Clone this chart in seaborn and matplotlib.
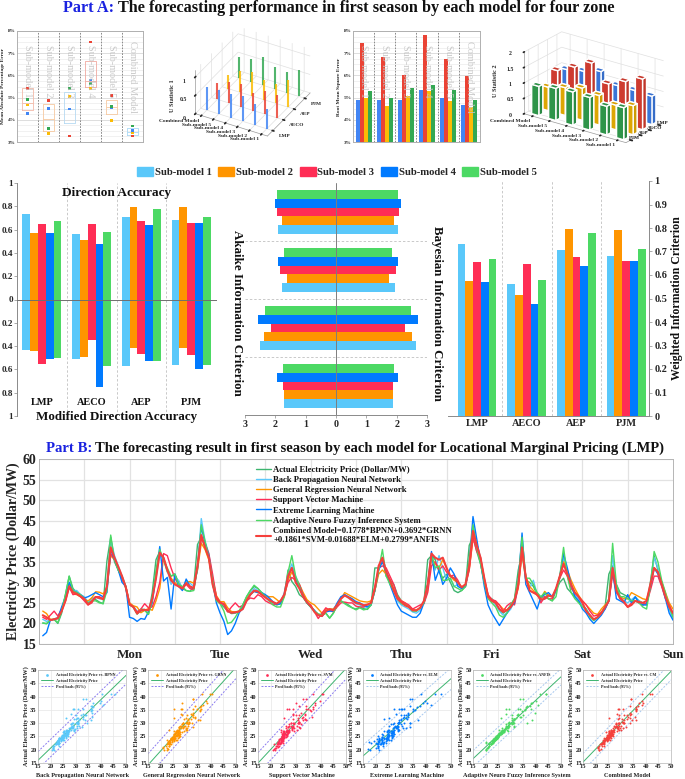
#!/usr/bin/env python3
"""Forecasting performance figure: Part A metrics and Part B LMP forecasts."""

import matplotlib
matplotlib.use("Agg")
import matplotlib.pyplot as plt
import matplotlib.patches as mpatches
from matplotlib.colors import LightSource
import numpy as np
import pandas as pd
import seaborn as sns

sns.set_theme(style="white")
plt.rcParams["font.family"] = ["Liberation Serif"]
plt.rcParams["font.weight"] = "bold"
plt.rcParams["axes.labelweight"] = "bold"
plt.rcParams["axes.linewidth"] = 0.7

# ---- data ----
zones = ["LMP", "AECO", "AEP", "PJM"]
sub_models = ["Sub-model 1", "Sub-model 2", "Sub-model 3", "Sub-model 4", "Sub-model 5"]
box_names = ["Sub-model 1", "Sub-model 2", "Sub-model 3", "Sub-model 4", "Sub-model 5", "Combined Model"]

# MAPE per zone and box outline (q1, median, q3)
mape_lmp = [4.27, 4.51, 4.49, 5.79, 4.57, 3.51]
mape_aeco = [5.42, 4.87, 3.27, 7.50, 5.11, 3.27]
mape_aep = [4.67, 3.39, 5.05, 5.41, 3.96, 3.41]
mape_pjm = [4.91, 3.60, 5.41, 5.62, 4.61, 3.72]
box_q1 = [4.46, 3.50, 3.87, 5.48, 4.27, 3.33]
box_med = [4.76, 4.05, 4.49, 5.74, 4.58, 3.45]
box_q3 = [5.42, 4.69, 5.23, 6.64, 4.87, 3.62]

rmse_lmp = [4.88, 4.87, 4.91, 5.35, 4.97, 4.66]
rmse_aeco = [7.47, 6.83, 6.01, 7.82, 6.72, 5.97]
rmse_aep = [5.00, 4.64, 5.08, 5.29, 4.84, 4.57]
rmse_pjm = [5.29, 4.97, 5.42, 5.56, 5.32, 4.87]

# 3D bars, order Combined Model -> Sub-model 1
names_3d = ["Combined Model", "Sub-model 5", "Sub-model 4", "Sub-model 3", "Sub-model 2", "Sub-model 1"]
u1_lmp = [0.62, 0.65, 0.65, 0.68, 0.56, 0.55]
u1_aeco = [0.44, 0.58, 0.62, 0.47, 0.64, 0.62]
u1_aep = [0.38, 0.57, 0.65, 0.54, 0.54, 0.75]
u1_pjm = [0.56, 0.60, 0.78, 0.60, 0.55, 0.73]
u2_lmp = [1.00, 1.10, 1.25, 0.95, 0.95, 0.92]
u2_aeco = [1.13, 1.40, 1.69, 1.17, 1.40, 1.64]
u2_aep = [0.76, 0.90, 1.04, 0.96, 0.80, 0.94]
u2_pjm = [0.95, 1.04, 1.08, 1.06, 0.93, 1.04]

# per zone, five sub-models
da_up = [[0.73, 0.575, 0.65, 0.57, 0.67], [0.565, 0.515, 0.645, 0.475, 0.58],
         [0.705, 0.795, 0.675, 0.64, 0.775], [0.68, 0.79, 0.66, 0.66, 0.71]]
mda_down = [[0.43, 0.44, 0.55, 0.515, 0.50], [0.515, 0.49, 0.345, 0.755, 0.57],
            [0.57, 0.415, 0.465, 0.525, 0.525], [0.56, 0.415, 0.475, 0.595, 0.56]]
aic = [[1.92, 1.78, 1.96, 2.02, 1.93], [1.79, 1.62, 1.84, 1.91, 1.71],
       [2.49, 2.36, 2.15, 2.56, 2.34], [1.73, 1.72, 1.74, 1.94, 1.76]]
bic = [[2.04, 1.92, 2.09, 2.14, 2.05], [1.93, 1.76, 1.97, 2.04, 1.85],
       [2.63, 2.50, 2.28, 2.69, 2.47], [1.87, 1.87, 1.88, 2.06, 1.90]]
wic = [[0.73, 0.575, 0.655, 0.57, 0.67], [0.56, 0.515, 0.645, 0.475, 0.58],
       [0.705, 0.795, 0.675, 0.64, 0.78], [0.68, 0.79, 0.66, 0.66, 0.71]]

# hourly prices, one row per day
actual = [
    20.1, 19.9, 20.8, 21.0, 20.0, 22.5, 27.0, 31.5, 28.5, 27.5, 26.8, 26.2, 25.2, 26.2, 25.8, 25.2, 24.8, 35.2, 41.0, 35.0, 33.0, 31.0, 28.5, 24.5,
    24.0, 22.3, 23.5, 23.4, 22.2, 27.5, 35.5, 37.5, 35.5, 32.5, 31.5, 32.0, 30.0, 28.5, 28.0, 27.8, 29.0, 39.2, 41.0, 38.5, 36.0, 29.5, 26.0, 24.8,
    24.0, 23.0, 22.4, 22.5, 23.0, 24.5, 26.5, 28.0, 29.0, 28.5, 27.5, 26.5, 25.5, 25.0, 24.5, 24.8, 27.0, 33.0, 30.2, 29.0, 27.0, 26.3, 25.0, 24.0,
    23.0, 22.2, 22.2, 22.5, 21.3, 22.5, 24.5, 25.5, 25.0, 24.5, 23.8, 23.5, 24.0, 23.6, 23.4, 24.5, 33.5, 33.5, 35.5, 31.5, 30.5, 29.5, 27.0, 25.5,
    24.8, 24.0, 23.3, 23.0, 23.8, 25.0, 35.5, 36.5, 35.5, 32.5, 31.0, 32.0, 30.0, 28.0, 27.5, 28.0, 29.0, 39.0, 41.0, 37.5, 34.5, 30.0, 26.5, 26.0,
    25.0, 23.2, 22.5, 23.2, 24.5, 26.0, 33.0, 37.0, 30.5, 30.0, 29.0, 27.0, 26.3, 26.5, 26.0, 25.5, 28.0, 30.0, 31.0, 28.5, 27.5, 26.5, 25.5, 24.5,
    23.5, 22.0, 20.8, 21.5, 22.5, 24.0, 32.0, 34.0, 29.5, 27.5, 27.0, 26.5, 25.5, 26.3, 25.5, 25.0, 24.5, 30.0, 36.5, 33.0, 30.0, 27.0, 24.5, 21.5,
]
bpnn = [
    21.0, 20.5, 20.9, 21.0, 21.5, 23.5, 26.0, 30.0, 28.0, 28.0, 27.0, 26.5, 25.2, 26.0, 26.5, 26.0, 26.0, 29.0, 40.5, 36.5, 34.0, 31.5, 29.0, 24.8,
    24.2, 23.0, 22.8, 23.2, 23.0, 26.0, 31.0, 37.0, 36.0, 33.0, 29.5, 31.0, 30.5, 28.5, 30.5, 29.8, 29.0, 33.0, 45.5, 40.0, 37.0, 31.0, 26.5, 25.0,
    24.5, 22.9, 22.8, 22.6, 22.8, 23.5, 25.5, 27.5, 28.5, 28.0, 27.5, 26.5, 25.5, 25.0, 24.6, 25.0, 27.5, 32.0, 34.5, 31.5, 29.5, 27.0, 25.5, 24.0,
    23.0, 22.2, 21.8, 23.2, 23.3, 23.5, 24.8, 26.0, 27.0, 26.2, 25.5, 24.8, 24.5, 24.0, 24.0, 24.8, 28.0, 33.0, 36.0, 33.0, 30.5, 28.0, 25.5, 24.5,
    24.0, 23.5, 22.8, 22.5, 23.2, 25.5, 29.5, 36.5, 33.0, 36.5, 33.5, 30.5, 31.0, 29.0, 29.5, 28.5, 29.0, 34.0, 44.0, 39.5, 36.0, 30.5, 26.5, 25.5,
    24.5, 23.0, 22.0, 22.5, 23.5, 25.5, 30.0, 41.0, 31.0, 28.5, 30.5, 27.0, 25.5, 26.0, 27.0, 26.5, 28.0, 31.0, 36.0, 32.5, 29.5, 27.0, 26.0, 24.5,
    23.0, 22.0, 20.8, 21.5, 22.5, 24.0, 26.0, 36.5, 28.0, 26.5, 25.5, 25.0, 25.8, 26.5, 25.5, 24.5, 24.8, 29.0, 36.0, 33.5, 30.0, 27.0, 23.5, 21.0,
]
grnn = [
    23.0, 22.4, 21.0, 21.0, 21.2, 23.0, 25.5, 29.5, 27.2, 27.0, 26.5, 25.8, 25.5, 26.2, 27.7, 27.6, 27.2, 28.5, 36.5, 35.5, 33.0, 31.0, 29.0, 25.0,
    24.3, 24.0, 22.6, 23.2, 23.6, 23.2, 25.5, 28.5, 36.0, 33.0, 31.0, 30.0, 29.0, 28.8, 30.0, 30.2, 29.8, 33.0, 39.5, 38.0, 35.5, 31.0, 26.8, 25.3,
    25.3, 23.8, 22.9, 22.8, 23.0, 24.0, 26.0, 27.2, 27.8, 27.5, 27.2, 26.8, 26.5, 26.5, 25.8, 25.0, 26.5, 30.5, 32.5, 31.0, 29.5, 27.5, 25.8, 25.0,
    24.5, 23.5, 22.5, 23.5, 23.5, 23.5, 24.5, 26.0, 27.5, 27.0, 26.5, 26.0, 25.5, 25.3, 25.2, 25.5, 28.0, 32.0, 33.0, 32.0, 30.5, 28.5, 26.5, 25.5,
    25.0, 24.2, 23.5, 23.2, 23.8, 25.0, 28.0, 36.0, 34.5, 33.5, 35.5, 33.5, 31.5, 30.5, 30.0, 28.8, 29.5, 33.0, 40.5, 38.5, 35.5, 30.5, 26.8, 25.5,
    25.2, 24.5, 23.5, 23.3, 24.0, 25.5, 28.5, 37.0, 31.5, 29.0, 28.0, 26.8, 26.0, 27.8, 26.8, 26.5, 28.0, 31.5, 35.0, 33.0, 30.5, 28.5, 26.8, 25.5,
    24.5, 23.5, 22.5, 22.2, 23.5, 24.5, 25.5, 33.0, 28.5, 26.5, 26.0, 26.0, 27.5, 27.0, 26.5, 26.0, 25.8, 29.0, 33.5, 32.5, 30.0, 27.5, 25.0, 23.5,
]
svm = [
    21.5, 21.0, 22.0, 23.0, 21.8, 23.5, 25.5, 28.8, 27.0, 27.2, 26.5, 25.5, 24.5, 25.0, 26.5, 26.5, 26.0, 29.0, 37.0, 35.5, 33.5, 31.0, 29.0, 24.8,
    24.0, 22.8, 23.5, 24.8, 23.8, 24.0, 26.5, 30.0, 37.0, 36.5, 33.5, 31.0, 29.5, 28.5, 29.5, 28.5, 28.2, 34.0, 40.5, 39.5, 37.0, 32.0, 26.5, 25.2,
    24.5, 22.8, 24.0, 25.0, 24.0, 24.3, 25.5, 26.2, 26.0, 27.0, 26.5, 25.5, 25.0, 24.6, 24.8, 25.5, 27.0, 30.0, 31.2, 30.5, 29.5, 27.0, 25.0, 24.5,
    22.8, 21.2, 22.5, 23.8, 23.2, 22.8, 24.0, 25.0, 25.2, 25.0, 25.0, 24.2, 24.0, 24.0, 24.5, 25.0, 29.0, 33.5, 34.0, 33.5, 31.5, 29.5, 26.5, 25.5,
    25.0, 24.5, 23.5, 24.0, 24.5, 24.8, 27.5, 34.0, 35.0, 33.0, 34.0, 32.5, 31.5, 31.8, 30.5, 28.5, 29.0, 33.0, 41.0, 37.5, 36.0, 31.0, 27.0, 25.8,
    25.5, 24.5, 23.0, 24.3, 25.0, 24.5, 29.0, 37.5, 31.5, 28.0, 27.5, 27.5, 25.0, 26.5, 26.0, 26.0, 28.5, 31.0, 33.0, 31.5, 28.5, 27.5, 26.5, 25.5,
    24.5, 23.0, 21.8, 22.0, 22.8, 23.5, 25.5, 32.0, 27.5, 26.5, 25.0, 24.0, 25.0, 25.5, 25.0, 24.5, 25.0, 28.0, 31.5, 31.5, 29.0, 26.0, 24.5, 22.5,
]
elm = [
    17.0, 17.8, 20.8, 21.0, 21.2, 24.0, 26.5, 30.0, 28.0, 27.5, 27.0, 26.2, 26.5, 27.0, 27.5, 27.0, 26.5, 27.5, 38.0, 35.5, 33.0, 30.0, 29.0, 21.5,
    21.2, 20.5, 21.2, 21.0, 22.8, 25.0, 31.5, 38.7, 30.3, 31.2, 23.5, 32.0, 29.0, 28.0, 30.8, 29.0, 28.5, 33.5, 43.5, 39.5, 36.5, 30.0, 25.0, 22.5,
    20.5, 17.3, 18.2, 20.0, 22.5, 24.0, 25.5, 27.0, 27.8, 27.5, 27.5, 27.0, 26.2, 25.3, 24.6, 24.8, 27.0, 31.5, 33.5, 30.5, 29.0, 26.5, 25.0, 24.0,
    23.2, 22.0, 21.8, 22.8, 23.0, 23.0, 25.0, 26.5, 27.0, 26.5, 26.0, 25.3, 25.0, 24.5, 24.0, 24.5, 28.0, 33.0, 35.0, 32.5, 29.5, 27.0, 24.5, 23.0,
    22.5, 22.0, 21.5, 21.5, 22.5, 25.0, 29.5, 37.5, 30.5, 33.0, 29.5, 31.0, 33.5, 32.0, 29.0, 28.5, 29.0, 34.5, 46.0, 40.5, 35.0, 29.0, 24.5, 22.5,
    21.0, 19.5, 21.0, 22.5, 24.0, 25.0, 30.0, 42.0, 29.5, 27.5, 25.5, 23.5, 26.5, 27.0, 27.5, 26.5, 28.0, 31.5, 37.0, 33.5, 29.5, 26.5, 25.5, 23.5,
    22.5, 21.0, 20.0, 21.0, 22.0, 23.5, 25.5, 33.0, 26.0, 25.5, 25.0, 27.0, 25.0, 26.5, 25.0, 24.5, 24.5, 29.0, 33.5, 32.0, 29.5, 26.0, 22.5, 20.8,
]
anfis = [
    20.1, 20.0, 20.8, 21.0, 20.2, 23.0, 27.0, 31.5, 28.0, 27.5, 27.0, 26.0, 25.0, 25.5, 25.5, 25.0, 24.8, 28.0, 41.5, 35.5, 33.0, 31.5, 29.0, 24.5,
    24.0, 22.3, 23.4, 23.2, 22.2, 25.5, 33.0, 38.0, 35.5, 33.5, 31.5, 32.0, 29.5, 29.0, 28.0, 27.8, 28.0, 33.5, 44.0, 40.0, 36.0, 30.5, 25.5, 24.8,
    23.0, 20.0, 20.3, 21.5, 23.0, 24.5, 26.5, 28.0, 29.3, 28.5, 27.5, 26.5, 25.5, 24.5, 24.0, 24.0, 26.5, 32.5, 36.5, 31.5, 29.0, 26.5, 25.0, 24.0,
    23.0, 22.3, 22.0, 22.5, 21.3, 22.5, 24.5, 25.5, 24.8, 24.2, 23.8, 23.3, 23.8, 23.3, 23.5, 24.5, 28.0, 33.0, 38.0, 31.5, 29.5, 28.0, 26.0, 24.8,
    24.5, 24.0, 23.0, 23.0, 23.8, 25.0, 29.5, 36.5, 33.5, 34.0, 30.5, 30.5, 31.0, 29.0, 28.5, 28.0, 29.0, 35.0, 44.0, 38.5, 34.5, 30.0, 26.0, 25.0,
    24.0, 22.0, 21.5, 22.5, 24.5, 26.0, 30.5, 41.0, 31.0, 31.0, 29.5, 27.5, 26.5, 27.5, 26.0, 25.5, 26.5, 31.5, 38.5, 31.5, 27.5, 26.0, 25.0, 24.0,
    23.5, 21.5, 20.7, 21.5, 22.5, 24.0, 26.0, 39.5, 29.5, 26.5, 26.5, 26.0, 25.5, 25.5, 25.0, 24.0, 23.5, 29.0, 37.5, 35.0, 30.5, 27.5, 24.0, 21.5,
]
combined = [
    22.0, 21.5, 20.8, 21.0, 21.3, 23.0, 25.5, 29.0, 27.6, 27.2, 26.6, 26.0, 24.6, 25.4, 26.4, 26.2, 25.9, 29.0, 38.5, 36.0, 33.8, 31.5, 28.8, 24.6,
    24.0, 22.4, 23.2, 23.3, 23.2, 26.0, 31.0, 37.2, 36.0, 33.0, 30.5, 29.5, 29.0, 28.5, 29.8, 29.0, 28.6, 34.0, 41.5, 38.5, 36.0, 29.5, 26.0, 25.0,
    24.8, 23.0, 22.6, 22.7, 22.9, 23.5, 25.5, 27.0, 28.0, 27.8, 27.0, 26.3, 25.7, 25.2, 24.8, 25.5, 27.0, 31.5, 33.5, 30.0, 28.5, 26.5, 25.2, 24.2,
    22.8, 22.0, 21.8, 23.0, 23.5, 23.2, 24.5, 26.0, 26.8, 26.3, 25.6, 25.0, 24.8, 24.4, 24.6, 25.0, 28.5, 34.0, 36.0, 32.5, 30.5, 28.0, 26.0, 25.2,
    24.4, 24.0, 23.2, 23.2, 23.8, 25.5, 29.5, 37.0, 36.0, 35.5, 36.0, 33.5, 31.5, 31.0, 30.0, 28.8, 29.5, 34.0, 42.5, 39.0, 36.0, 31.0, 26.5, 25.5,
    25.0, 23.5, 22.8, 23.2, 24.0, 25.5, 29.5, 38.5, 31.0, 28.0, 27.5, 27.0, 25.8, 26.0, 26.8, 26.5, 28.5, 31.5, 34.5, 32.0, 29.5, 27.5, 26.5, 25.0,
    23.0, 22.0, 21.0, 21.5, 22.5, 24.0, 25.5, 33.5, 28.0, 26.0, 25.3, 24.0, 24.5, 25.5, 25.2, 25.0, 25.5, 29.5, 33.5, 32.5, 29.5, 26.5, 24.0, 22.5,
]
hours = list(range(1, 169))
days = ["Mon", "Tue", "Wed", "Thu", "Fri", "Sat", "Sun"]

line_names = ["Actual Electricity Price (Dollar/MW)", "Back Propagation Neural Network",
              "General Regression Neural Network", "Support Vector Machine",
              "Extreme Learning Machine", "Adaptive Neuro Fuzzy Inference System",
              "Combined Model=0.1778*BPNN+0.3692*GRNN\n+0.1861*SVM-0.01688*ELM+0.2799*ANFIS"]

# ---- styles ----
W, H = 685, 779
IOS = ["#5AC8FA", "#FF9500", "#FF2D55", "#007AFF", "#4CD964"]
GOOGLE = {"LMP": "#4285F4", "AECO": "#EA4335", "AEP": "#FBBC05", "PJM": "#34A853"}
ACTUAL_C = "#3DB56F"
CM_C = "#F5403C"
SEP = "#c9c9c9"
GRAY = "#8a8a8a"

fig = plt.figure(figsize=(W / 100, H / 100), dpi=100)


def px_axes(left, top, right, bottom, **kw):
    return fig.add_axes([left / W, 1 - bottom / H, (right - left) / W, (bottom - top) / H], **kw)


def px_text(x, y, s, **kw):
    kw.setdefault("ha", "center")
    kw.setdefault("va", "center")
    return fig.text(x / W, 1 - y / H, s, **kw)


def zone_frame(values):
    rows = []
    for zone, row in zip(zones, values):
        for name, v in zip(sub_models, row):
            rows.append({"zone": zone, "model": name, "value": v})
    return pd.DataFrame(rows)


def style_percent_axis(ax, ylabel):
    ax.set_ylim(3, 8)
    ax.set_xlim(-0.5, 5.5)
    ax.set_yticks([3, 4, 5, 6, 7, 8])
    ax.set_yticklabels([f"{v}%" for v in range(3, 9)], fontsize=3.8)
    ax.set_yticks(np.arange(3, 8, 0.25), minor=True)
    ax.grid(axis="y", which="major", color="#dddddd", lw=0.7)
    ax.grid(axis="y", which="minor", color="#efefef", lw=0.6)
    ax.set_axisbelow(True)
    ax.tick_params(axis="y", length=0, pad=1)
    ax.set_xticks([])
    ax.set_xlabel("")
    ax.set_ylabel(ylabel, fontsize=3.9, labelpad=1.5)
    for s in ax.spines.values():
        s.set_color("#b0b0b0")
        s.set_visible(True)
    for x in np.arange(0.5, 5, 1):
        ax.axvline(x, color="#777777", lw=0.6, ls=(0, (2, 1.5)), zorder=1)
    for i, name in enumerate(box_names):
        ax.text(i, 7.38 if i < 5 else 7.55, name, rotation=-90, ha="center", va="top",
                fontsize=7.4, color="#c4c4c4", fontweight="normal", zorder=6, alpha=0.9)


# ---- titles ----
px_text(63, 7.5, "Part A:", ha="left", fontsize=11.7, color="#1a22e0")
px_text(118, 7.5, "The forecasting performance in first season by each model for four zone",
        ha="left", fontsize=11.7, color="#111111")
px_text(46, 448, "Part B:", ha="left", fontsize=10.6, color="#1a22e0")
px_text(95, 448, "The forecasting result in first season by each model for Locational Marginal Pricing (LMP)",
        ha="left", fontsize=10.55, color="#111111")

# ---- A1: MAPE boxes ----
ax = px_axes(17, 31, 143, 142)
box_stats = [{"q1": a, "med": b, "q3": c, "whislo": a, "whishi": c, "fliers": []}
             for a, b, c in zip(box_q1, box_med, box_q3)]
box_cols = ["#f3b9a8", "#f6c9a0", "#b5d9f2", "#f0a9a0", "#f6c9a0", "#a9d8f5"]
bp = ax.bxp(box_stats, positions=range(6), widths=0.56, showcaps=False, patch_artist=False,
            medianprops={"lw": 0.6}, boxprops={"lw": 0.6}, whiskerprops={"lw": 0})
for i, c in enumerate(box_cols):
    bp["boxes"][i].set_color(c)
    bp["medians"][i].set_color(c)
mape_df = pd.DataFrame({"pos": list(range(6)) * 4,
                        "mape": mape_lmp + mape_aeco + mape_aep + mape_pjm,
                        "zone": np.repeat(zones, 6)})
sns.scatterplot(data=mape_df, x="pos", y="mape", hue="zone", palette=GOOGLE, s=4, marker="s",
                linewidth=0, legend=False, ax=ax, zorder=5)
style_percent_axis(ax, "Mean Absolute Percentage Error")

# ---- A3: RMSE bars ----
ax = px_axes(353, 31, 480, 142)
rmse_df = pd.DataFrame({"model": box_names * 4,
                        "rmse": rmse_lmp + rmse_aeco + rmse_aep + rmse_pjm,
                        "zone": np.repeat(zones, 6)})
sns.barplot(data=rmse_df, x="model", y="rmse", hue="zone", palette=GOOGLE, saturation=1,
            width=0.76, gap=0, linewidth=0, legend=False, ax=ax)
style_percent_axis(ax, "Root Mean Square Error")


# ---- A2, A4: 3D bars ----
def bars_3d(box, rows, row_order, thickness, zmax, zticks, zlabel, aspect, elev, azim, zoom, ypad):
    ax3 = fig.add_axes([box[0] / W, 1 - box[3] / H, (box[2] - box[0]) / W, (box[3] - box[1]) / H],
                       projection="3d", computed_zorder=False, proj_type="ortho")
    ax3.patch.set_alpha(0)
    light = LightSource(azdeg=144, altdeg=35)
    for iy, zone in reversed(list(enumerate(row_order))):
        for ix, v in enumerate(rows[zone]):
            order = 10 + (len(row_order) - iy) * 10 + ix
            if thickness < 0.1:
                ax3.plot([ix, ix], [iy, iy], [0, v], color=GOOGLE[zone], lw=1.5, alpha=0.85,
                         solid_capstyle="butt", zorder=order)
            else:
                ax3.bar3d(ix - thickness / 2, iy - thickness / 2, 0, thickness, thickness, v,
                          color=GOOGLE[zone], shade=True, lightsource=light, zorder=order)
    ax3.set_xlim(-0.5, 5.5)
    ax3.set_ylim(-0.5, 3.5)
    ax3.set_zlim(0, zmax)
    ax3.set_xticks(range(6))
    ax3.set_xticklabels(names_3d, fontsize=3.9, ha="right", va="center")
    ax3.set_yticks(range(4))
    ax3.set_yticklabels(row_order, fontsize=3.9, ha="left", va="center")
    ax3.set_zticks(zticks)
    ax3.set_zticklabels([f"{t:g}" for t in zticks], fontsize=4.2)
    ax3.zaxis.set_ticks_position("lower")
    ax3.zaxis.set_label_position("lower")
    ax3.set_zlabel(zlabel, fontsize=4.5, labelpad=-11)
    ax3.tick_params(axis="x", pad=-5, length=0)
    ax3.tick_params(axis="y", pad=ypad, length=0)
    ax3.tick_params(axis="z", pad=-3, length=0)
    for axis in (ax3.xaxis, ax3.yaxis, ax3.zaxis):
        axis.set_pane_color((1, 1, 1, 0))
        axis.pane.set_edgecolor("#dddddd")
        axis._axinfo["grid"]["color"] = "#e0e0e0"
        axis._axinfo["grid"]["linewidth"] = 0.5
        axis.line.set_color("#9a9a9a")
        axis.line.set_linewidth(0.5)
    ax3.set_box_aspect(aspect, zoom=zoom)
    ax3.view_init(elev=elev, azim=azim)
    return ax3


bars_3d((156, 17, 346, 149), {"LMP": u1_lmp, "AECO": u1_aeco, "AEP": u1_aep, "PJM": u1_pjm},
        ["LMP", "AECO", "AEP", "PJM"], 0.07, 1.2, [0, 0.5, 1], "U Statistic 1", (85, 91, 55), 34, -61, 0.97, -4)
bars_3d((497, 23, 687, 155), {"LMP": u2_lmp, "AECO": u2_aeco, "AEP": u2_aep, "PJM": u2_pjm},
        ["PJM", "AEP", "AECO", "LMP"], 0.42, 2, [0, 0.5, 1, 1.5, 2], "U Statistic 2", (124, 63, 66), 23, -54, 1.15, -9)

# ---- sub-model legend ----
handles = [mpatches.Patch(color=c, label=n) for c, n in zip(IOS, sub_models)]
fig.legend(handles=handles, loc="center", bbox_to_anchor=(337 / W, 1 - 172 / H), ncols=5, frameon=False,
           fontsize=7.7, handlelength=1.5, handleheight=1.0, columnspacing=0.62, handletextpad=0.15, borderpad=0)

# ---- direction accuracy ----
ax = px_axes(17, 183, 216, 416)
sns.barplot(data=zone_frame(da_up), x="zone", y="value", hue="model", palette=IOS, saturation=1,
            width=0.78, gap=0, linewidth=0, legend=False, ax=ax)
down_df = zone_frame(mda_down)
down_df["value"] = -down_df["value"]
sns.barplot(data=down_df, x="zone", y="value", hue="model", palette=IOS, saturation=1,
            width=0.78, gap=0, linewidth=0, legend=False, ax=ax)
ax.set_xlim(-0.5, 3.5)
ax.set_ylim(-1, 1)
ax.set_yticks(np.arange(-1, 1.01, 0.2))
ax.set_yticklabels(["1", "0.8", "0.6", "0.4", "0.2", "0", "0.2", "0.4", "0.6", "0.8", "1"], fontsize=6.6)
ax.tick_params(axis="y", length=2, width=0.5, color=GRAY, pad=1, left=True)
ax.set_xlabel("")
ax.set_ylabel("")
sns.despine(ax=ax, top=True, right=True, bottom=False)
ax.spines["bottom"].set_position(("data", 0))
ax.spines["bottom"].set_color("#6f6f6f")
ax.spines["bottom"].set_zorder(5)
ax.spines["left"].set_color(GRAY)
ax.set_xticks([0, 1, 2, 3])
ax.set_xticklabels([])
ax.tick_params(axis="x", length=1.5, width=0.5, color="#6f6f6f")
for x in [0.5, 1.5, 2.5]:
    ax.axvline(x, color=SEP, lw=0.7, ls=(0, (2.5, 2)), zorder=0)
for i, z in enumerate(zones):
    ax.text(i, -0.885, z, ha="center", va="center", fontsize=7.4, color="#111111")
px_text(117, 193, "Direction Accuracy", fontsize=9.5, color="#111111")
px_text(117, 417, "Modified Direction Accuracy", fontsize=9.4, color="#111111")

# ---- AIC / BIC butterfly ----
ax = px_axes(245, 183, 427, 415)
reverse_pal = dict(zip(sub_models, IOS))
left_df = zone_frame(aic)
left_df["value"] = -left_df["value"]
for frame in (left_df, zone_frame(bic)):
    sns.barplot(data=frame, y="zone", x="value", hue="model", hue_order=sub_models[::-1], palette=reverse_pal,
                saturation=1, orient="h", width=0.77, gap=0, linewidth=0, legend=False, ax=ax)
ax.set_xlim(-3, 3)
ax.set_ylim(3.5, -0.5)
ax.set_xticks([-3, -2, -1, 0, 1, 2, 3])
ax.set_xticklabels(["3", "2", "1", "0", "1", "2", "3"], fontsize=7.2)
ax.tick_params(axis="x", length=2, width=0.5, color=GRAY, pad=1.5, bottom=True)
ax.set_yticks([])
ax.set_xlabel("")
ax.set_ylabel("")
sns.despine(ax=ax, left=True, top=True, right=True)
ax.spines["bottom"].set_color(GRAY)
ax.axvline(0, color="#7d7d7d", lw=0.7, zorder=5)
for y in [0.5, 1.5, 2.5]:
    ax.axhline(y, color=SEP, lw=0.7, ls=(0, (2.5, 2)), zorder=0)
px_text(237, 313, "Akaike Information Criterion", rotation=-90, fontsize=9.4, color="#111111")
px_text(437, 313, "Bayesian Information Criterion", rotation=-90, fontsize=9.3, color="#111111")

# ---- weighted criterion ----
ax = px_axes(448, 181, 649, 416)
sns.barplot(data=zone_frame(wic), x="zone", y="value", hue="model", palette=IOS, saturation=1,
            width=0.78, gap=0, linewidth=0, legend=False, ax=ax)
ax.set_xlim(-0.583, 3.46)
ax.set_ylim(0, 1)
ax.yaxis.tick_right()
ax.set_yticks(np.arange(0, 1.01, 0.1))
ax.set_yticklabels(["0", "0.1", "0.2", "0.3", "0.4", "0.5", "0.6", "0.7", "0.8", "0.9", "1"], fontsize=7.4)
ax.tick_params(axis="y", length=2, width=0.5, color=GRAY, pad=2, right=True)
ax.tick_params(axis="x", length=0, labelsize=7.4, pad=2)
ax.set_xlabel("")
ax.set_ylabel("")
for side in ("top", "left"):
    ax.spines[side].set_visible(False)
for side in ("bottom", "right"):
    ax.spines[side].set_color(GRAY)
    ax.spines[side].set_visible(True)
for x in [0.5, 1.5, 2.5]:
    ax.axvline(x, color=SEP, lw=0.7, ls=(0, (2.5, 2)), zorder=0)
px_text(677, 298, "Weighted Information Criterion", rotation=90, fontsize=8.6, color="#111111")

# ---- Part B line chart ----
ax = px_axes(39, 459, 673, 644)
series = [actual, bpnn, grnn, svm, elm, anfis, combined]
line_cols = [ACTUAL_C, IOS[0], IOS[1], IOS[2], IOS[3], IOS[4], CM_C]
line_w = [1.0, 1.0, 1.0, 1.0, 1.0, 1.0, 1.5]
for values, name, c, lw in zip(series, line_names, line_cols, line_w):
    sns.lineplot(x=hours, y=values, color=c, lw=lw, label=name, ax=ax, errorbar=None, estimator=None)
ax.set_xlim(0, 168)
ax.set_ylim(15, 60)
ax.set_xticks(range(12, 168, 12))
ax.set_xticklabels([])
for i, d in enumerate(days):
    ax.text((i + 1) * 24, 12.4, d, ha="center", va="center", fontsize=9.4, color="#222222", clip_on=False)
ax.set_yticks(range(15, 61, 5))
ax.tick_params(axis="y", labelsize=10, length=0, pad=2, labelcolor="#222222")
ax.tick_params(axis="x", length=0)
ax.grid(True, color="#e2e2e2", lw=0.9)
ax.set_axisbelow(True)
for s in ax.spines.values():
    s.set_color("#b5b5b5")
    s.set_visible(True)
ax.set_ylabel("Electricity Price (Dollar/MW)", fontsize=10, labelpad=2, color="#222222")
ax.set_xlabel("")
ax.legend(loc="upper left", bbox_to_anchor=(217 / 634, 0.965), frameon=False, fontsize=6.25,
          labelspacing=0.25, handlelength=1.75, handletextpad=0.25, borderpad=0, borderaxespad=0, labelcolor="#111111")

# ---- Part B scatter panels ----
scatter_left = [38, 148, 258, 363, 473, 583]
scatter_series = [bpnn, grnn, svm, elm, anfis, combined]
scatter_cols = [IOS[0], IOS[1], IOS[2], IOS[3], IOS[4], CM_C]
scatter_short = ["BPNN", "GRNN", "SVM", "ELM", "ANFIS", "CM"]
scatter_xlabel = ["Back Propagation Neural Network", "General Regression Neural Network", "Support Vector Machine",
                  "Extreme Learning Machine", "Adaptive Neuro Fuzzy Inference System", "Combined Model"]
band_cols = ["#8b7cf0", "#8b7cf0", "#8b7cf0", "#a8c8ee", "#a8c8ee", "#a8c8ee"]
ticks = list(range(15, 51, 5))
for left, vals, c, short, xlab, band in zip(scatter_left, scatter_series, scatter_cols, scatter_short,
                                            scatter_xlabel, band_cols):
    ax = px_axes(left, 670, left + 88, 763)
    x = np.array(vals)
    y = np.array(actual)
    slope, intercept = np.polyfit(x, y, 1)
    spread = 1.96 * np.std(y - (slope * x + intercept))
    grid_x = np.array([15, 50])
    sns.scatterplot(x=vals, y=actual, color=c, s=2.0, linewidth=0, marker="o", ax=ax,
                    label=f"Actual Electricity Price vs. {short}", zorder=3)
    fit = slope * grid_x + intercept
    sns.lineplot(x=grid_x, y=fit, color=ACTUAL_C, lw=0.7, ax=ax, label="Actual Electricity Price")
    sns.lineplot(x=grid_x, y=fit + spread, color=band, lw=0.7, ls=(0, (2, 1.5)), ax=ax, label="Pred bads (95%)")
    sns.lineplot(x=grid_x, y=fit - spread, color=band, lw=0.7, ls=(0, (2, 1.5)), ax=ax)
    ax.set_xlim(15, 50)
    ax.set_ylim(15, 50)
    ax.set_xticks(ticks)
    ax.set_yticks(ticks)
    ax.tick_params(labelsize=4.6, length=0, pad=1, labelcolor="#222222")
    ax.grid(True, color="#e6e6e6", lw=0.5)
    ax.set_axisbelow(True)
    for s in ax.spines.values():
        s.set_color("#b5b5b5")
        s.set_linewidth(0.5)
        s.set_visible(True)
    ax.set_xlabel(xlab, fontsize=4.5, labelpad=2.5, color="#222222")
    ax.set_ylabel("Actual Electricity Price (Dollar/MW)", fontsize=4.5, labelpad=1.0, color="#222222")
    ax.legend(loc="upper left", frameon=False, fontsize=3.0, labelspacing=0.4, handlelength=2.9, handletextpad=0.6,
              borderpad=0.5, borderaxespad=0.2, markerscale=1.4)

fig.savefig("out.png", dpi=100)
